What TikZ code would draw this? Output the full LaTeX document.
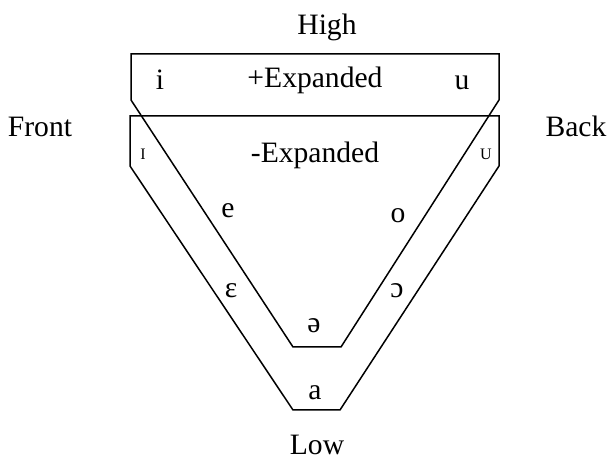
\documentclass[tikz,border=0pt]{standalone}
\usepackage{fontspec}
\setmainfont{Liberation Serif}
\usetikzlibrary{positioning}
\tikzset{zone/.style={draw=black,line width=0.75pt,line join=miter}, lbl/.style={anchor=base,inner sep=0pt,font=\fontsize{14.8}{17}\selectfont}, vow/.style={lbl}, small/.style={anchor=base,inner sep=0pt,font=\fontsize{8}{9}\selectfont}}

\begin{document}
\begin{tikzpicture}[x=0.5pt,y=-0.5pt]
\useasboundingbox (0,0) rectangle (607,464);
\draw[zone] (131,54)--(499,54)--(499,100)--(341,347)--(293,347)--(131,100)--cycle;
\draw[zone] (130,116)--(499,116)--(499,166)--(340,410)--(293,410)--(130,166)--cycle;
\node[lbl] (high) at (327,35) {High};
\node[lbl] (low) at (317,455) {Low};
\node[lbl] (front) at (40,137) {Front};
\node[lbl] (back) at (576,137) {Back};
\node[lbl] (pexp) at (315,88) {+Expanded};
\node[lbl] (mexp) at (315,163) {-Expanded};
\node[vow] (i) at (160,90) {i};
\node[vow] (u) at (462,90) {u};
\node[small] (ii) at (143,160) {I};
\node[small] (uu) at (486,160) {U};
\node[vow] (e) at (228,218) {e};
\node[vow] (o) at (398,223) {o};
\node[vow] (eps) at (231,298) {ɛ};
\node[vow] (oo) at (397,298) {ɔ};
\node[vow] (schwa) at (314,333) {ə};
\node[vow] (a) at (315,400) {a};
\end{tikzpicture}
\end{document}
